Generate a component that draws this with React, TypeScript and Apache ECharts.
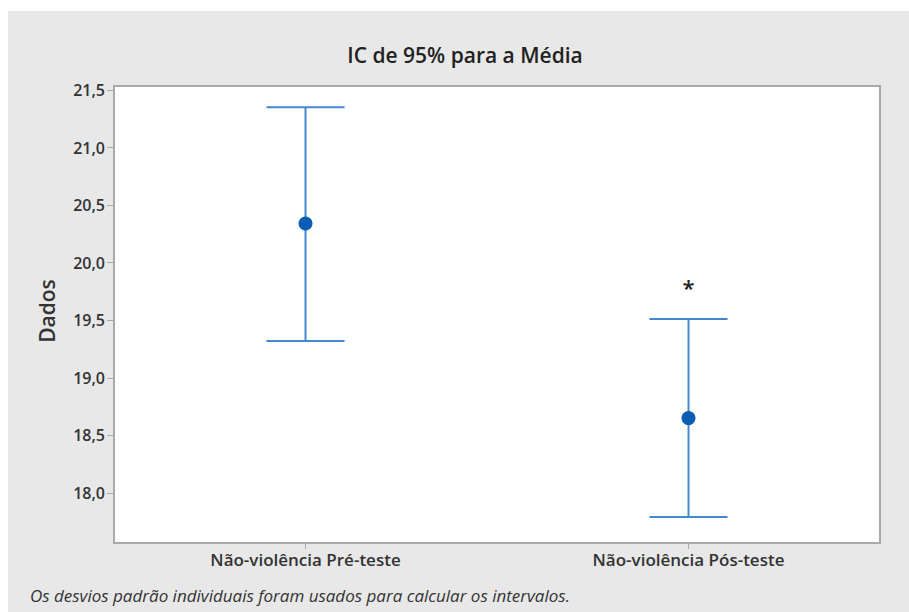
import React, { useEffect, useRef } from "react";
import * as echarts from "echarts";

// Groups on the horizontal axis
const categories = ["Não-violência Pré-teste", "Não-violência Pós-teste"];
// 95% confidence interval for the mean of each group
const means = [20.34, 18.65];
const lowerBounds = [19.32, 17.79];
const upperBounds = [21.35, 19.51];
// Unusual observation flag drawn above the second interval
const flagValues = [null, 19.79];
// Y tick labels
const yTicks = [18.0, 18.5, 19.0, 19.5, 20.0, 20.5, 21.0, 21.5];

const FONT = "'Open Sans', 'Noto Sans', sans-serif";
const LINE_BLUE = "#4388cf";
const DOT_BLUE = "#0b5cb3";
const AXIS_GREY = "#a9a9a9";

export default function App() {
  const ref = useRef<HTMLDivElement>(null);

  useEffect(() => {
    if (!ref.current) return;
    const chart = echarts.init(ref.current, undefined, { renderer: "svg" });

    const intervalData = categories.map((_, i) => [i, lowerBounds[i], upperBounds[i]]);
    const meanData = categories.map((_, i) => [i, means[i]]);
    const flagData = flagValues
      .map((v, i) => (v == null ? null : [i, v]))
      .filter((d) => d !== null);

    const fmt = (v: number) => v.toFixed(1).replace(".", ",");

    chart.setOption({
      animation: false,
      backgroundColor: "#e8e8e8",
      grid: {
        left: 106,
        right: 29,
        top: 75,
        bottom: 69,
        show: true,
        backgroundColor: "#ffffff",
        borderColor: AXIS_GREY,
        borderWidth: 2,
      },
      graphic: [
        {
          type: "text",
          x: 457,
          y: 44,
          style: {
            text: "IC de 95% para a Média",
            font: `600 21px ${FONT}`,
            fill: "#222",
            textAlign: "center",
            textVerticalAlign: "middle",
          },
        },
        {
          type: "text",
          x: 39,
          y: 300,
          rotation: Math.PI / 2,
          style: {
            text: "Dados",
            font: `600 21px ${FONT}`,
            fill: "#333",
            textAlign: "center",
            textVerticalAlign: "middle",
          },
        },
        {
          type: "text",
          x: 22,
          y: 584,
          style: {
            text: "Os desvios padrão individuais foram usados para calcular os intervalos.",
            font: `italic 17px ${FONT}`,
            fill: "#333",
            textAlign: "left",
            textVerticalAlign: "middle",
          },
        },
      ],
      xAxis: {
        type: "category",
        data: categories,
        boundaryGap: true,
        axisLine: { show: true, lineStyle: { color: AXIS_GREY, width: 2 } },
        axisTick: { show: true, alignWithLabel: true, length: 6, lineStyle: { color: AXIS_GREY } },
        axisLabel: {
          color: "#333",
          fontFamily: FONT,
          fontSize: 17,
          fontWeight: 600,
          margin: 8,
        },
        splitLine: { show: false },
      },
      yAxis: {
        type: "value",
        min: 17.565,
        max: 21.535,
        axisLine: { show: true, lineStyle: { color: AXIS_GREY, width: 2 } },
        axisTick: {
          show: true,
          length: 7,
          customValues: yTicks,
          lineStyle: { color: AXIS_GREY },
        },
        axisLabel: {
          customValues: yTicks,
          formatter: (v: number) => fmt(v),
          color: "#333",
          fontFamily: FONT,
          fontSize: 16,
          fontWeight: 600,
          margin: 9,
        },
        splitLine: { show: false },
      },
      series: [
        {
          type: "custom",
          data: intervalData,
          renderItem: (params: any, api: any) => {
            const x = api.value(0);
            const lo = api.coord([x, api.value(1)]);
            const hi = api.coord([x, api.value(2)]);
            const half = 39;
            const style = { stroke: LINE_BLUE, lineWidth: 2 };
            return {
              type: "group",
              children: [
                { type: "line", shape: { x1: lo[0], y1: lo[1], x2: hi[0], y2: hi[1] }, style },
                { type: "line", shape: { x1: hi[0] - half, y1: hi[1], x2: hi[0] + half, y2: hi[1] }, style },
                { type: "line", shape: { x1: lo[0] - half, y1: lo[1], x2: lo[0] + half, y2: lo[1] }, style },
              ],
            };
          },
          z: 2,
        },
        {
          type: "scatter",
          data: meanData,
          symbol: "circle",
          symbolSize: 14,
          itemStyle: { color: DOT_BLUE, opacity: 1 },
          z: 3,
        },
        {
          type: "custom",
          data: flagData,
          renderItem: (params: any, api: any) => {
            const p = api.coord([api.value(0), api.value(1)]);
            return {
              type: "text",
              x: p[0],
              y: p[1],
              style: {
                text: "*",
                font: `600 22px ${FONT}`,
                fill: "#222",
                textAlign: "center",
                textVerticalAlign: "middle",
              },
            };
          },
          z: 3,
        },
      ],
    });

    return () => chart.dispose();
  }, []);

  return (
    <div
      ref={ref}
      style={{ position: "absolute", left: 8, top: 11, width: 901, height: 601 }}
    />
  );
}
